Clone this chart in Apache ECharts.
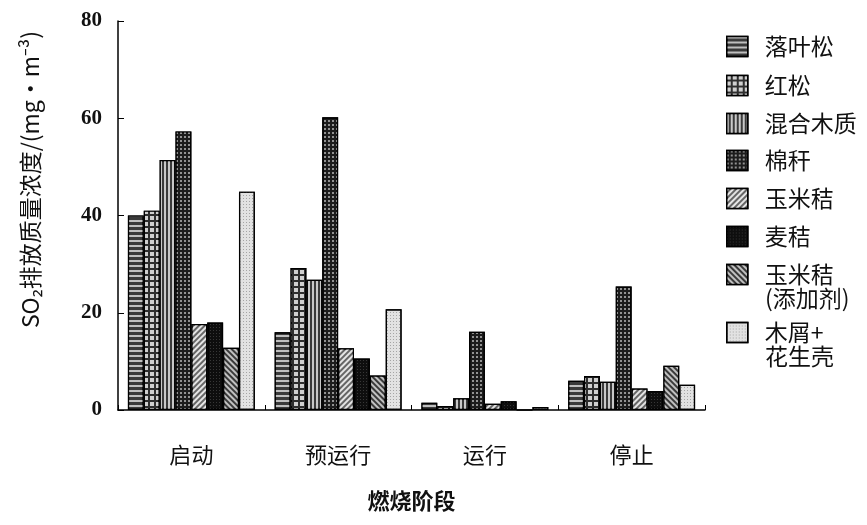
<!DOCTYPE html>
<html>
<head>
<meta charset="utf-8">
<script src="https://cdn.jsdelivr.net/npm/echarts@6/dist/echarts.min.js"></script>
<style>html,body{margin:0;padding:0;background:#fff;}#c{width:867px;height:525px;}</style>
</head>
<body>
<div id="c"></div>
<script>
// ---- data ----
var categories = ['启动', '预运行', '运行', '停止'];
var seriesNames = ['落叶松', '红松', '混合木质', '棉秆', '玉米秸', '麦秸', '玉米秸(添加剂)', '木屑+花生壳'];
var legendLine1 = ['落叶松', '红松', '混合木质', '棉秆', '玉米秸', '麦秸', '玉米秸', '木屑+'];
var legendLine2 = ['', '', '', '', '', '', '(添加剂)', '花生壳'];
var vLuoYeSong = [40.0, 16.0, 1.5, 6.0];
var vHongSong = [41.0, 29.2, 0.8, 7.0];
var vHunHe = [51.4, 26.8, 2.4, 5.8];
var vMianGan = [57.3, 60.2, 16.1, 25.4];
var vYuMiJie = [17.7, 12.7, 1.3, 4.4];
var vMaiJie = [18.0, 10.6, 1.8, 3.9];
var vYuMiJieAdd = [12.8, 7.1, 0, 9.1];
var vMuXie = [44.9, 20.7, 0.6, 5.2];
var yTicks = [0, 20, 40, 60, 80];

var seriesValues = [vLuoYeSong, vHongSong, vHunHe, vMianGan, vYuMiJie, vMaiJie, vYuMiJieAdd, vMuXie];

// ---- styles ----
var CJK = '"Noto Sans CJK SC", "Noto Sans", sans-serif';
var SERIF = '"Liberation Serif", "DejaVu Serif", serif';
var styles = [
  {color: '#3a3a3a', decal: {symbol: 'rect', color: 'rgba(235,235,235,0.75)', dashArrayX: [1, 0], dashArrayY: [1.5, 3], symbolSize: 1}},
  {color: '#2e2e2e', decal: {symbol: 'rect', color: 'rgba(225,225,225,0.9)', dashArrayX: [4, 2], dashArrayY: [4, 2], symbolSize: 1}},
  {color: '#3a3a3a', decal: {symbol: 'rect', color: 'rgba(215,215,215,0.9)', dashArrayX: [2, 2], dashArrayY: [1, 0], symbolSize: 1}},
  {color: '#1c1c1c', decal: {symbol: 'rect', color: 'rgba(160,160,160,0.9)', dashArrayX: [2, 2], dashArrayY: [2, 2], symbolSize: 1}},
  {color: '#666666', decal: {symbol: 'rect', color: 'rgba(235,235,235,0.95)', dashArrayX: [1, 0], dashArrayY: [2, 2], rotation: -Math.PI / 4, symbolSize: 1}},
  {color: '#0e0e0e', decal: {symbol: 'rect', color: 'rgba(60,60,60,0.9)', dashArrayX: [1, 2], dashArrayY: [1, 2], symbolSize: 1}},
  {color: '#3a3a3a', decal: {symbol: 'rect', color: 'rgba(200,200,200,0.95)', dashArrayX: [1, 0], dashArrayY: [2, 2], rotation: Math.PI / 4, symbolSize: 1}},
  {color: '#e2e2e2', decal: {symbol: 'rect', color: 'rgba(150,150,150,0.8)', dashArrayX: [1, 2], dashArrayY: [1, 2], symbolSize: 1}}
];
var legendTops = [45, 84, 122, 159, 197, 235, 273, 331];

var series = seriesNames.map(function (n, i) {
  return {
    name: n,
    type: 'bar',
    data: seriesValues[i],
    barGap: '0%',
    barCategoryGap: '13.5%',
    itemStyle: {color: styles[i].color, decal: styles[i].decal, borderColor: '#000', borderWidth: 1.2},
    emphasis: {disabled: true}
  };
});

var legends = seriesNames.map(function (n, i) {
  return {
    data: [n],
    orient: 'vertical',
    left: 726,
    top: legendTops[i] - 10,
    padding: 0,
    icon: 'rect',
    itemWidth: 21,
    itemHeight: 20,
    selectedMode: false,
    itemStyle: {borderColor: '#000', borderWidth: 1.5},
    formatter: function () { return legendLine1[i]; },
    textStyle: {fontFamily: CJK, fontSize: 23, color: '#111', padding: [0, 0, 0, 12]}
  };
});

var graphics = [];
legendLine2.forEach(function (t, i) {
  if (t) {
    graphics.push({
      type: 'text',
      left: 765,
      top: legendTops[i] + 14,
      style: {text: t, fontFamily: CJK, fontSize: 23, fill: '#111'}
    });
  }
});

var chart = echarts.init(document.getElementById('c'));
chart.setOption({
  animation: false,
  backgroundColor: '#fff',
  grid: {left: 118, right: 162, top: 21, bottom: 115, containLabel: false},
  legend: legends,
  graphic: graphics,
  xAxis: {
    type: 'category',
    data: categories,
    name: '燃烧阶段',
    nameLocation: 'middle',
    nameGap: 80,
    nameTextStyle: {fontFamily: CJK, fontSize: 22, fontWeight: 'bold', color: '#111'},
    axisLine: {lineStyle: {color: '#000', width: 1.5}},
    axisTick: {show: true, inside: true, length: 5, lineStyle: {color: '#000'}},
    axisLabel: {fontFamily: CJK, fontSize: 22, color: '#111', margin: 34}
  },
  yAxis: {
    type: 'value',
    min: yTicks[0],
    max: yTicks[yTicks.length - 1],
    interval: yTicks[1] - yTicks[0],
    name: 'SO₂排放质量浓度/(mg·m⁻³)',
    nameLocation: 'middle',
    nameGap: 76,
    nameTextStyle: {fontFamily: CJK, fontSize: 23, color: '#111', padding: [0, 0, 0, 72]},
    splitLine: {show: false},
    axisLine: {show: true, lineStyle: {color: '#000', width: 1.5}},
    axisTick: {show: true, inside: true, length: 6, lineStyle: {color: '#000'}},
    axisLabel: {fontFamily: SERIF, fontSize: 21, fontWeight: 'bold', color: '#111', margin: 16}
  },
  series: series
});
</script>
</body>
</html>
